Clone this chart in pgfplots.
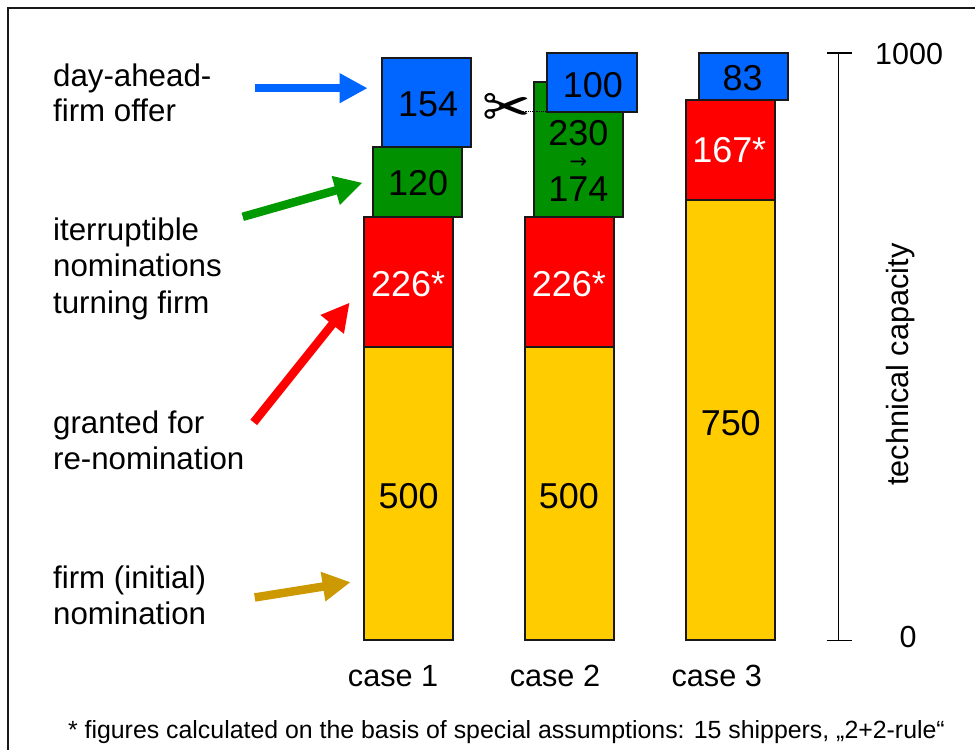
\documentclass[border=0pt]{standalone}
\usepackage{pgfplots}
\pgfplotsset{compat=1.18}
\usepackage{fontspec}
\setmainfont{Liberation Sans}
\newfontfamily\sym{DejaVu Sans}
\usetikzlibrary{arrows.meta}
\definecolor{cy}{HTML}{FFCC00}
\definecolor{cr}{HTML}{FF0000}
\definecolor{cg}{HTML}{009000}
\definecolor{cb}{HTML}{0066FF}
\definecolor{ag}{HTML}{009900}
\definecolor{ao}{HTML}{CC9900}
\newcommand{\tx}[4][black]{\node[anchor=base,inner sep=0pt,text=#1,font=\fontsize{36}{36}\selectfont] at (axis cs:#2,{(641-#3)/0.588}) {#4};}
\newcommand{\lb}[3]{\node[anchor=base west,inner sep=0pt,font=\fontsize{31.3}{31}\selectfont] at (axis cs:#1,{(641-#2)/0.588}) {#3};}
\begin{document}
\begin{tikzpicture}
\begin{axis}[hide axis,scale only axis,width=976pt,height=751pt,
  xmin=0,xmax=976,ymin=-187.07,ymax=1090.14,clip=false,
  every axis plot/.append style={line join=miter}]
\pgfplotsset{box/.style={draw=black!90,line width=1.9pt,fill=#1}}
% page extent
\addplot[draw=none] coordinates {(0,-187.07)(976,1090.14)};
% case 1
\addplot[box=cy] coordinates {(364.7,0)(453.7,0)(453.7,500)(364.7,500)} -- cycle;
\addplot[box=cr] coordinates {(364.7,500)(453.7,500)(453.7,721)(364.7,721)} -- cycle;
\addplot[box=cg] coordinates {(373.7,721)(462.7,721)(462.7,840)(373.7,840)} -- cycle;
\addplot[box=cb] coordinates {(382.7,840)(471.7,840)(471.7,991)(382.7,991)} -- cycle;
% case 2
\addplot[box=cy] coordinates {(525.7,0)(614.7,0)(614.7,500)(525.7,500)} -- cycle;
\addplot[box=cr] coordinates {(525.7,500)(614.7,500)(614.7,721)(525.7,721)} -- cycle;
\addplot[box=cg] coordinates {(534.7,721)(623.7,721)(623.7,951)(534.7,951)} -- cycle;
\addplot[box=cb] coordinates {(547.7,900)(637.7,900)(637.7,1000)(547.7,1000)} -- cycle;
% case 3
\addplot[box=cy] coordinates {(686.7,0)(775.7,0)(775.7,750)(686.7,750)} -- cycle;
\addplot[box=cr] coordinates {(686.7,750)(775.7,750)(775.7,920)(686.7,920)} -- cycle;
\addplot[box=cb] coordinates {(699.7,920)(788.7,920)(788.7,1000)(699.7,1000)} -- cycle;
% dotted cut
\addplot[black,densely dotted,line width=1.2pt] coordinates {(515,900)(547,900)};
% scale
\addplot[black,line width=1.2pt] coordinates {(839.7,0)(839.7,1000)};
\addplot[black,line width=1.2pt] coordinates {(827.7,0)(852.7,0)};
\addplot[black,line width=1.2pt] coordinates {(827.7,1000)(852.7,1000)};
% frame
\addplot[black!90,line width=2pt] coordinates {(8,-187.07)(8,1076.5)(976,1076.5)};
% arrows
\addplot[cb,line width=8.5pt,-{Triangle[length=28pt,width=28pt]}] coordinates {(255,940)(368,940)};
\addplot[ag,line width=8.5pt,-{Triangle[length=28pt,width=28pt]}] coordinates {(243,721)(363,779)};
\addplot[cr,line width=8.5pt,-{Triangle[length=28pt,width=28pt]}] coordinates {(254,371)(350,575)};
\addplot[ao,line width=8.5pt,-{Triangle[length=28pt,width=28pt]}] coordinates {(255,73)(351,99)};
% values
\tx{428.5}{117}{154}
\tx{418.5}{196}{120}
\tx[white]{408.5}{297}{226*}
\tx{409}{509}{500}
\tx{593.5}{98}{100}
\tx{579}{146}{230}
\tx{579}{202}{174}
\node[inner sep=0pt,font=\sym\fontsize{21}{21}\selectfont] at (axis cs:579,{(641-163)/0.588}) {→};
\tx[white]{569.5}{297}{226*}
\tx{569.5}{509}{500}
\tx{743.5}{91}{83}
\tx[white]{730}{163}{167*}
\tx{731.5}{436}{750}
% left labels
\lb{53}{87}{day-ahead-}
\lb{53}{122}{firm offer}
\lb{53}{241}{iterruptible}
\lb{53}{277}{nominations}
\lb{53}{314}{turning firm}
\lb{53}{434}{granted for}
\lb{53}{470}{re-nomination}
\lb{53}{589}{firm (initial)}
\lb{53}{625}{nomination}
% case labels
\node[anchor=base,inner sep=0pt,font=\fontsize{30.7}{31}\selectfont] at (axis cs:393.5,{(641-687)/0.588}) {case 1};
\node[anchor=base,inner sep=0pt,font=\fontsize{30.7}{31}\selectfont] at (axis cs:555.5,{(641-687)/0.588}) {case 2};
\node[anchor=base,inner sep=0pt,font=\fontsize{30.7}{31}\selectfont] at (axis cs:717.5,{(641-687)/0.588}) {case 3};
% scale labels
\node[anchor=base,inner sep=0pt,font=\fontsize{30.5}{30}\selectfont] at (axis cs:910,{(641-65)/0.588}) {1000};
\node[anchor=base,inner sep=0pt,font=\fontsize{30.5}{30}\selectfont] at (axis cs:909,{(641-648)/0.588}) {0};
\node[rotate=90,inner sep=0pt,font=\fontsize{30.7}{31}\selectfont] at (axis cs:901,{(641-365)/0.588}) {technical capacity};
% scissors
\node[inner sep=0pt,font=\sym\fontsize{58}{58}\selectfont] at (axis cs:507,{(641-111)/0.588}) {✂};
% footnote
\node[anchor=base,inner sep=0pt,font=\fontsize{24.9}{25}\selectfont] at (axis cs:507,{(641-739)/0.588}) {* figures calculated on the basis of special assumptions: 15 shippers, „2+2-rule“};
\end{axis}
\end{tikzpicture}
\end{document}
